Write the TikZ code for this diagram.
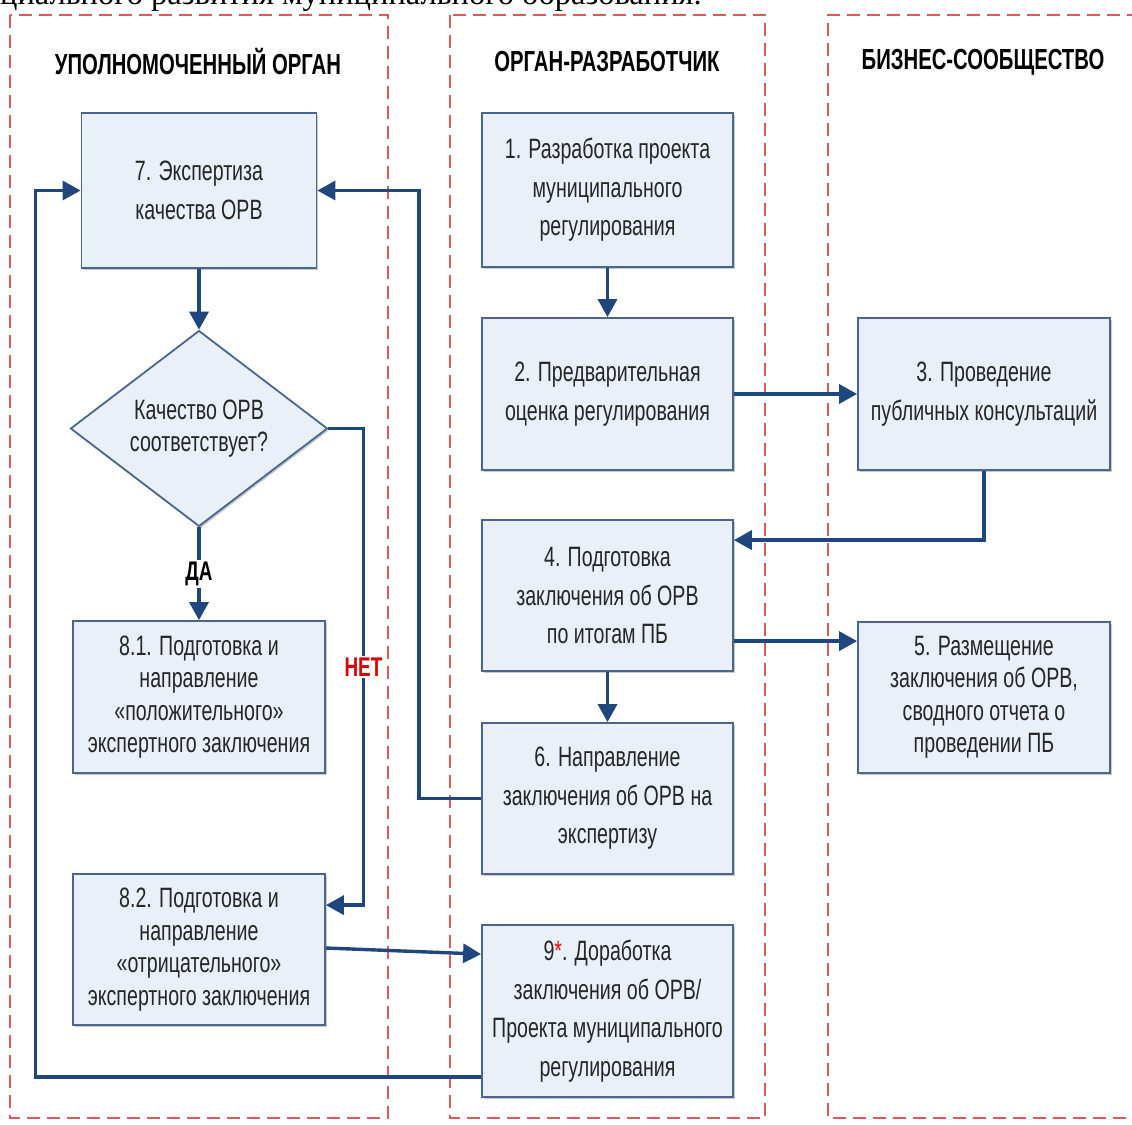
\documentclass[tikz,border=0pt]{standalone}
\usepackage{fontspec}
\setmainfont[FakeStretch=0.7]{Liberation Sans}
\newfontfamily\serifcap{Liberation Serif}
\usetikzlibrary{shapes.geometric,arrows.meta,shadows,calc}
\definecolor{boxfill}{HTML}{EAF0F8}
\definecolor{boxline}{HTML}{4A6590}
\definecolor{arrcol}{HTML}{1F467D}
\definecolor{lanecol}{HTML}{DC5A5A}
\tikzset{
  procbox/.style={draw=boxline, line width=1.8pt, fill=boxfill, align=center,
    inner sep=0pt, text=black!85,
    font=\fontsize{28}{38.5}\selectfont,
    drop shadow={shadow xshift=1.5pt, shadow yshift=-2pt, opacity=0.35, fill=black!60}},
  tightbox/.style={procbox, font=\fontsize{28}{32.5}\selectfont},
  arr/.style={draw=arrcol, line width=3.4pt, -{Triangle[length=18pt,width=19pt]}},
  lane/.style={draw=lanecol, line width=2.5pt, dash pattern=on 13pt off 7pt},
  lanehead/.style={font=\bfseries\fontsize{29}{32}\selectfont, text=black},
  lbl/.style={font=\bfseries\fontsize{27}{30}\selectfont, fill=white, inner sep=2pt}
}
\begin{document}
\begin{tikzpicture}[x=1pt,y=-1pt]
\useasboundingbox (0,0) rectangle (1132,1124);
\clip (0,0) rectangle (1132,1124);
\fill[white] (0,0) rectangle (1132,1124);
% caption cut off at top, as in the reference
\node[anchor=base west, inner sep=0pt, font=\serifcap\fontsize{32.5}{34}\selectfont] (cap) at (0,5) {циального развития муниципального образования.};
% lanes
\draw[lane] (10,15) rectangle (388,1118);
\draw[lane] (450,15) rectangle (765,1118);
\draw[lane] (1140,15) -- (828,15) -- (828,1118) -- (1140,1118);
\node[lanehead] (h1) at (198,62) {УПОЛНОМОЧЕННЫЙ ОРГАН};
\node[lanehead] (h2) at (607,62) {ОРГАН-РАЗРАБОТЧИК};
\node[lanehead] (h3) at (983,62) {БИЗНЕС-СООБЩЕСТВО};
% boxes
\node[procbox, minimum width=235pt, minimum height=155pt] (b7) at (199,190.5) {7. Экспертиза\\качества ОРВ};
\node[procbox, minimum width=251pt, minimum height=154pt] (b1) at (607.5,190) {1. Разработка проекта\\муниципального\\регулирования};
\node[procbox, minimum width=251pt, minimum height=152pt] (b2) at (607.5,394) {2. Предварительная\\оценка регулирования};
\node[procbox, minimum width=252pt, minimum height=152pt] (b3) at (984,394) {3. Проведение\\публичных консультаций};
\node[procbox, minimum width=251pt, minimum height=151pt] (b4) at (607.5,595.5) {4. Подготовка\\заключения об ОРВ\\по итогам ПБ};
\node[tightbox, minimum width=252pt, minimum height=151pt] (b5) at (984,697.5) {5. Размещение\\заключения об ОРВ,\\сводного отчета о\\проведении ПБ};
\node[procbox, minimum width=251pt, minimum height=151pt] (b6) at (607.5,798.5) {6. Направление\\заключения об ОРВ на\\экспертизу};
\node[procbox, minimum width=251pt, minimum height=172pt] (b9) at (607.5,1011) {9{\color{red}*}. Доработка\\заключения об ОРВ/\\Проекта муниципального\\регулирования};
\node[procbox, diamond, minimum width=257pt, minimum height=183pt, font=\fontsize{28}{32.5}\selectfont] (dia) at (199,428.5) {Качество ОРВ\\соответствует?};
\node[tightbox, minimum width=252pt, minimum height=152pt] (b81) at (199,697) {8.1. Подготовка и\\направление\\«положительного»\\экспертного заключения};
\node[tightbox, minimum width=252pt, minimum height=151pt] (b82) at (199,949.5) {8.2. Подготовка и\\направление\\«отрицательного»\\экспертного заключения};
% connectors
\draw[arr] (b7.south) -- (dia.north);
\draw[arr] (b1.south) -- (b2.north);
\draw[arr] (b2.east) -- (b3.west);
\draw[arr] (b3.south) |- ([yshift=-21pt]b4.north east);
\draw[arr] ([yshift=-20pt]b5.north west -| b4.east) -- ([yshift=-20pt]b5.north west);
\draw[arr] (b4.south) -- (b6.north);
\draw[arr] (b6.west) -- ++(-62,0) |- (b7.east);
\draw[arr] (dia.south) -- node[lbl, text=black] (da) {ДА} (b81.north);
\draw[arr] (dia.east) -- ++(35,0) |- node[pos=0.25, lbl, text=red!85!black] (net) {НЕТ} ([yshift=-32pt]b82.north east);
\draw[arr] ([yshift=1.5pt]b82.east) -- ([yshift=-30pt]b9.north west);
\draw[arr] ([yshift=21pt]b9.south west) -| ([xshift=-45pt]b7.west) -- (b7.west);
\end{tikzpicture}
\end{document}
